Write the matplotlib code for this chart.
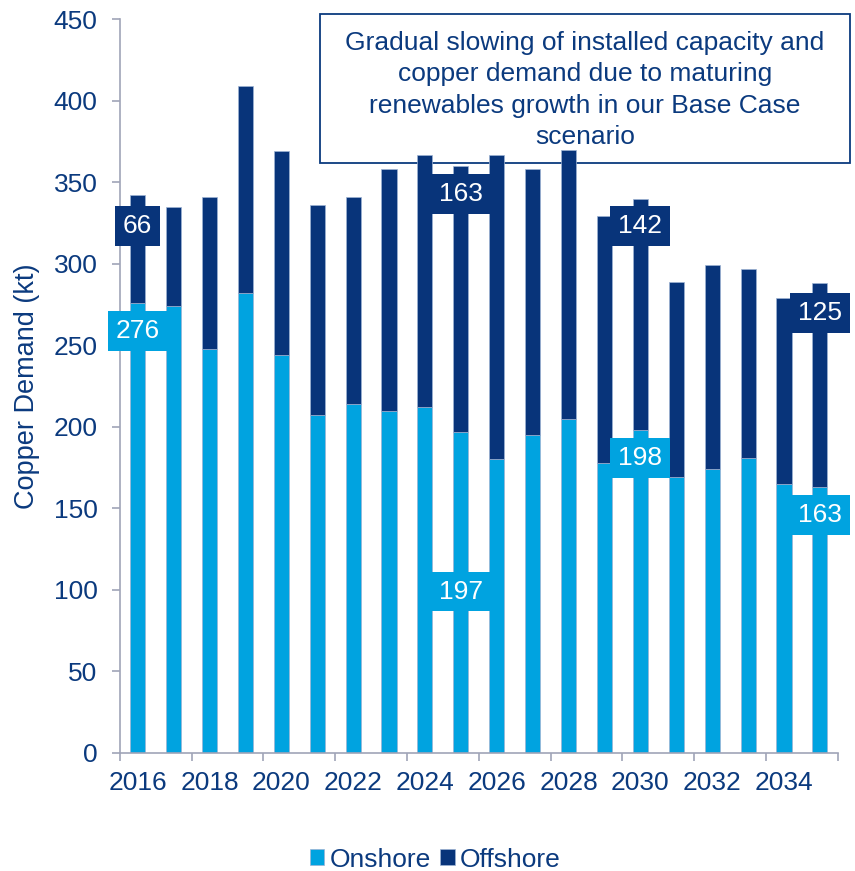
import matplotlib
matplotlib.use("Agg")
from matplotlib import pyplot as plt
from matplotlib.patches import Rectangle

plt.rcParams['font.family'] = ['Liberation Sans', 'DejaVu Sans']

years = list(range(2016, 2036))
onshore = [276, 274, 248, 282, 244, 207, 214, 210, 212, 197,
           180, 195, 205, 178, 198, 169, 174, 181, 165, 163]
offshore = [66, 61, 93, 127, 125, 129, 127, 148, 155, 163,
            187, 163, 165, 151, 142, 120, 125, 116, 114, 125]
year_labels = [str(y) for y in years[::2]]

# which bars get a value box (index -> y position of the box)
label_on = {0: 259, 9: 99, 14: 181, 19: 146}
label_off = {0: 323, 9: 343, 14: 323, 19: 270}

c_on = '#00A3E0'
c_off = '#08347A'
c_txt = '#0B3A7E'
c_axis = '#A0A4B8'

fig = plt.figure(figsize=(8.55, 8.71), dpi=100)
ax = fig.add_axes([0.140, 0.1355, 0.840, 0.8425])

x = list(range(len(years)))
ax.bar(x, onshore, width=0.42, color=c_on, edgecolor='#9DB3D3', linewidth=0.5, label='Onshore', zorder=2)
ax.bar(x, offshore, width=0.42, bottom=onshore, color=c_off, edgecolor='#9DB3D3', linewidth=0.5,
       label='Offshore', zorder=2)

for i, ypos in label_on.items():
    ax.text(i, ypos, str(onshore[i]), ha='center', va='center', color='white', fontsize=19, zorder=4,
            bbox=dict(boxstyle='square,pad=0.3', facecolor=c_on, edgecolor='none'))
for i, ypos in label_off.items():
    ax.text(i, ypos, str(offshore[i]), ha='center', va='center', color='white', fontsize=19, zorder=4,
            bbox=dict(boxstyle='square,pad=0.3', facecolor=c_off, edgecolor='none'))

ax.set_xlim(-0.5, len(years) - 0.5)
ax.set_ylim(0, 450)
ax.set_yticks(range(0, 451, 50))
ax.set_xticks([i - 0.5 for i in range(0, 21, 2)])
ax.set_xticklabels([])
ax.set_xticks(list(range(0, 20, 2)), minor=True)
ax.set_xticklabels(year_labels, minor=True)
ax.tick_params(axis='x', which='minor', length=0, pad=13, labelsize=19, labelcolor=c_txt)
ax.tick_params(axis='x', which='major', length=6, color=c_axis, width=1.2)
ax.tick_params(axis='y', length=6, color=c_axis, width=1.2, labelsize=19, labelcolor=c_txt, pad=10)

for s in ['top', 'right']:
    ax.spines[s].set_visible(False)
for s in ['left', 'bottom']:
    ax.spines[s].set_color(c_axis)
    ax.spines[s].set_linewidth(1.2)

ax.set_ylabel('Copper Demand (kt)', fontsize=19.5, color=c_txt, labelpad=10)

# annotation box
box = Rectangle((0.374, 0.8129), 0.620, 0.171, transform=fig.transFigure, facecolor='white',
                edgecolor=c_txt, linewidth=1.3, clip_on=False, zorder=1)
ax.add_patch(box)
ax.text(0.684, 0.8967, 'Gradual slowing of installed capacity and\ncopper demand due to maturing\n'
        'renewables growth in our Base Case\nscenario', transform=fig.transFigure,
        ha='center', va='center', fontsize=19, color=c_txt, linespacing=1.4, zorder=3)

fig.legend(loc='center', bbox_to_anchor=(0.509, 0.013), ncol=2, frameon=False, fontsize=19,
           labelcolor=c_txt, handlelength=0.55, handleheight=0.55, handletextpad=0.2, columnspacing=0.35)

plt.savefig('out.png', dpi=100)
